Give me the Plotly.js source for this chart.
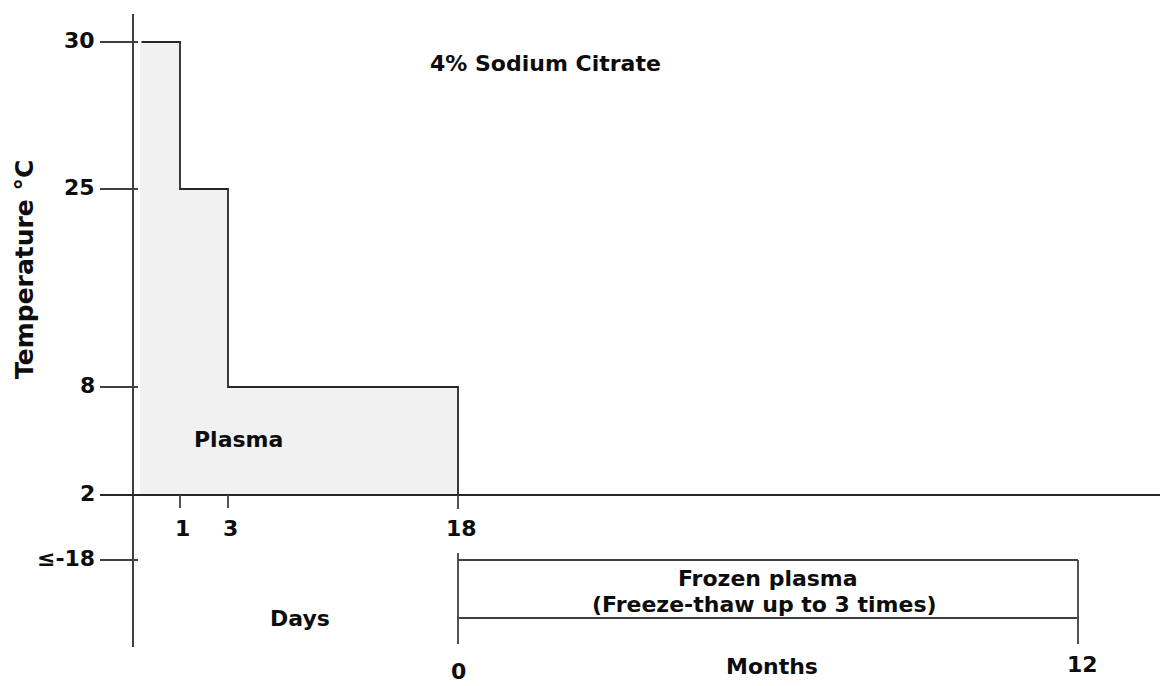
<!DOCTYPE html>
<html>
<head>
<meta charset="utf-8">
<script src="https://cdn.plot.ly/plotly-3.0.1.min.js"></script>
<style>html,body{margin:0;padding:0;background:#fff;}#chart{width:1160px;height:686px;}</style>
</head>
<body>
<div id="chart"></div>
<script>
// ---- Data ----
const plasmaDays = [0, 1, 3, 18];          // step boundaries (days)
const plasmaTemps = [30, 25, 8, 2];        // upper temperature limit for each step (°C)
const tempTicks = [30, 25, 8, 2, -18];
const tempTickLabels = ['30', '25', '8', '2', '≤-18'];
const dayTicks = [1, 3, 18];
const dayTickLabels = ['1', '3', '18'];
const frozenMonths = [0, 12];
const monthTickLabels = ['0', '12'];
const frozenTemp = -18;

// ---- Schematic (piecewise) scales ----
function piecewise(domain, range) {
  return function (v) {
    for (let i = 0; i < domain.length - 1; i++) {
      const a = domain[i], b = domain[i + 1];
      if ((v >= Math.min(a, b) && v <= Math.max(a, b)) || i === domain.length - 2) {
        return range[i] + (v - a) / (b - a) * (range[i + 1] - range[i]);
      }
    }
  };
}
const xDay = piecewise([0, 1, 3, 18], [140, 180, 228, 458]);
const yTemp = piecewise([-18, 2, 8, 25, 30], [560, 495, 387, 189, 42]);
const xMonth = piecewise([0, 12], [458, 1078]);
const axisX = 133;

const ink = '#262626';
const axisInk = '#404040';
const FONT = 'DejaVu Sans, Arial, sans-serif';
const traces = [];
function seg(xs, ys, w, c) {
  traces.push({x: xs, y: ys, mode: 'lines', type: 'scatter',
    line: {color: c || ink, width: w || 1.8}, hoverinfo: 'skip'});
}

// Plasma step area
const polyX = [xDay(plasmaDays[0])], polyY = [yTemp(plasmaTemps[plasmaTemps.length - 1])];
const stepX = [], stepY = [];
for (let i = 0; i < plasmaTemps.length - 1; i++) {
  stepX.push(xDay(plasmaDays[i]) + (i === 0 ? 1.5 : 0), xDay(plasmaDays[i + 1]));
  stepY.push(yTemp(plasmaTemps[i]), yTemp(plasmaTemps[i]));
}
stepX.push(xDay(plasmaDays[plasmaDays.length - 1]));
stepY.push(yTemp(plasmaTemps[plasmaTemps.length - 1]));
polyX.push(xDay(plasmaDays[0]), ...stepX.slice(1));
polyY.push(yTemp(plasmaTemps[0]), ...stepY.slice(1));
traces.push({x: polyX, y: polyY, type: 'scatter', mode: 'none', fill: 'toself',
  fillcolor: '#f1f1f1', hoverinfo: 'skip'});
seg(stepX, stepY, 1.8, ink);

// Y axis line and ticks
seg([axisX, axisX], [14, 647], 2, axisInk);
tempTicks.forEach(t => {
  if (t !== 2) seg([100, 138], [yTemp(t), yTemp(t)], 1.8, axisInk);
});
// Horizontal axis (2 °C)
seg([100, 1160], [yTemp(2), yTemp(2)], 2, ink);
// Day ticks
dayTicks.forEach(d => seg([xDay(d), xDay(d)], [yTemp(2), yTemp(2) + (d === 18 ? 14 : 13)], 1.8, axisInk));

// Frozen plasma box
const fx0 = xMonth(frozenMonths[0]), fx1 = xMonth(frozenMonths[1]);
const fy = yTemp(frozenTemp);
seg([fx0, fx0], [fy - 7, 644], 1.8, axisInk);
seg([fx1, fx1], [fy, 644], 1.8, axisInk);
seg([fx0, fx1], [fy, fy], 1.8, axisInk);
seg([fx0, fx1], [fy + 58, fy + 58], 1.8, axisInk);

const ann = [];
function txt(x, y, s, opt) {
  ann.push(Object.assign({x: x, y: y, xref: 'x', yref: 'y', text: s, showarrow: false,
    font: {family: FONT, size: 22, color: '#0d0d0d', weight: 'bold'}}, opt || {}));
}
tempTicks.forEach((t, i) => txt(97, yTemp(t) - 2, '<b>' + tempTickLabels[i] + '</b>', {xanchor: 'right'}));
dayTicks.forEach((d, i) => txt(xDay(d) + (d === 18 ? 3 : 2), 528, '<b>' + dayTickLabels[i] + '</b>'));
frozenMonths.forEach((m, i) => txt(xMonth(m) + (i ? 4 : 0), i ? 664 : 671, '<b>' + monthTickLabels[i] + '</b>'));
txt(545, 63, '<b>4% Sodium Citrate</b>');
txt(238, 439, '<b>Plasma</b>');
txt(300, 618, '<b>Days</b>');
txt(772, 666, '<b>Months</b>');
txt(768, 578, '<b>Frozen plasma</b>');
txt(764, 604, '<b>(Freeze-thaw up to 3 times)</b>');
txt(24, 270, '<b>Temperature °C</b>', {textangle: -90,
  font: {family: FONT, size: 25, color: '#0d0d0d', weight: 'bold'}});

const layout = {
  width: 1160, height: 686,
  margin: {l: 0, r: 0, t: 0, b: 0, pad: 0},
  paper_bgcolor: '#fff', plot_bgcolor: '#fff',
  showlegend: false, hovermode: false,
  xaxis: {range: [0, 1160], visible: false, fixedrange: true},
  yaxis: {range: [686, 0], visible: false, fixedrange: true},
  annotations: ann
};
Plotly.newPlot('chart', traces, layout, {staticPlot: true, displayModeBar: false});
</script>
</body>
</html>
